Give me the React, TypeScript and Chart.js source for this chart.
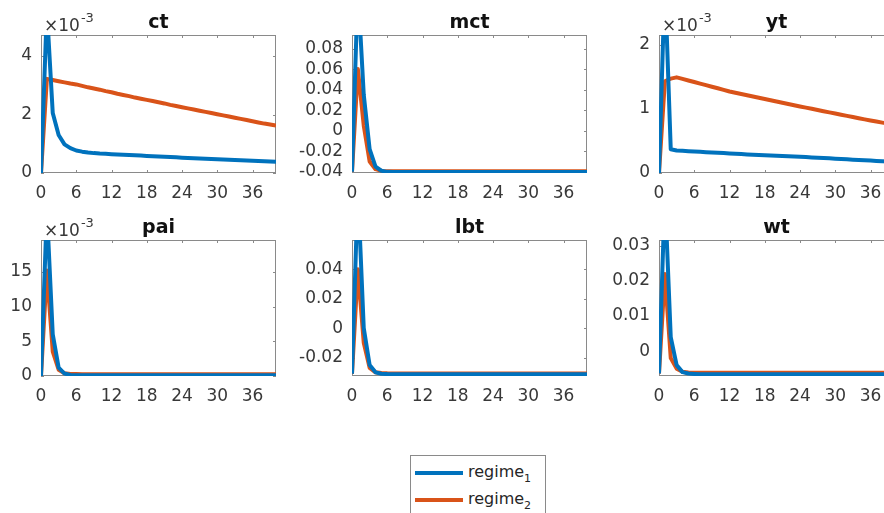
import React, { useEffect, useRef } from "react";
import { Chart, registerables } from "chart.js";

Chart.register(...registerables);

// ---------- data ----------
const periods = [0, 1, 2, 3, 4, 5, 6, 7, 8, 9, 10, 11, 12, 13, 14, 15, 16, 17, 18, 19, 20,
  21, 22, 23, 24, 25, 26, 27, 28, 29, 30, 31, 32, 33, 34, 35, 36, 37, 38, 39, 40];
const xTicks = [0, 6, 12, 18, 24, 30, 36];
const legendLabels = ["regime", "regime"];
const legendSubs = ["1", "2"];

// ct (x10^-3)
const ctRegime1 = [0, 5.6, 2.05, 1.3, 0.98, 0.85, 0.77, 0.73, 0.70, 0.68, 0.665, 0.655, 0.645, 0.635, 0.625,
  0.615, 0.605, 0.595, 0.585, 0.575, 0.565, 0.555, 0.545, 0.535, 0.525, 0.515, 0.505, 0.496, 0.487, 0.478,
  0.469, 0.46, 0.451, 0.442, 0.434, 0.426, 0.418, 0.41, 0.402, 0.394, 0.386];
const ctRegime2 = [0, 3.22, 3.18, 3.14, 3.10, 3.06, 3.03, 2.98, 2.93, 2.89, 2.85, 2.80, 2.76, 2.71, 2.67,
  2.63, 2.58, 2.54, 2.50, 2.46, 2.42, 2.38, 2.33, 2.29, 2.25, 2.21, 2.17, 2.13, 2.09, 2.05, 2.01, 1.97,
  1.93, 1.89, 1.85, 1.81, 1.77, 1.73, 1.69, 1.66, 1.62];
const ctTicks = [0, 2, 4];
const ctTickLabels = ["0", "2", "4"];

// mct
const mctRegime1 = [-0.040, 0.14, 0.035, -0.018, -0.035, -0.039, -0.0401, -0.0402, -0.0402, -0.0402,
  -0.0402, -0.0402, -0.0402, -0.0402, -0.0402, -0.0402, -0.0402, -0.0402, -0.0402, -0.0402, -0.0402,
  -0.0402, -0.0402, -0.0402, -0.0402, -0.0402, -0.0402, -0.0402, -0.0402, -0.0402, -0.0402, -0.0402,
  -0.0402, -0.0402, -0.0402, -0.0402, -0.0402, -0.0402, -0.0402, -0.0402, -0.0402];
const mctRegime2 = [-0.040, 0.060, 0.005, -0.030, -0.0375, -0.0392, -0.0395, -0.0396, -0.0396, -0.0396,
  -0.0396, -0.0396, -0.0396, -0.0396, -0.0396, -0.0396, -0.0396, -0.0396, -0.0396, -0.0396, -0.0396,
  -0.0396, -0.0396, -0.0396, -0.0396, -0.0396, -0.0396, -0.0396, -0.0396, -0.0396, -0.0396, -0.0396,
  -0.0396, -0.0396, -0.0396, -0.0396, -0.0396, -0.0396, -0.0396, -0.0396, -0.0396];
const mctTicks = [-0.04, -0.02, 0, 0.02, 0.04, 0.06, 0.08];
const mctTickLabels = ["-0.04", "-0.02", "0", "0.02", "0.04", "0.06", "0.08"];

// yt (x10^-3)
const ytRegime1 = [0, 3.0, 0.37, 0.35, 0.345, 0.34, 0.335, 0.33, 0.325, 0.32, 0.315, 0.31, 0.305, 0.30,
  0.295, 0.29, 0.285, 0.28, 0.276, 0.272, 0.268, 0.264, 0.26, 0.256, 0.252, 0.248, 0.243, 0.238, 0.233,
  0.228, 0.223, 0.218, 0.213, 0.208, 0.203, 0.198, 0.193, 0.188, 0.183, 0.178, 0.173];
const ytRegime2 = [0, 1.43, 1.47, 1.49, 1.466, 1.442, 1.417, 1.393, 1.368, 1.344, 1.32, 1.295, 1.27, 1.25,
  1.231, 1.211, 1.192, 1.172, 1.153, 1.133, 1.114, 1.094, 1.075, 1.055, 1.036, 1.018, 1.0, 0.981, 0.963,
  0.945, 0.927, 0.908, 0.89, 0.872, 0.853, 0.835, 0.817, 0.801, 0.785, 0.769, 0.753];
const ytTicks = [0, 1, 2];
const ytTickLabels = ["0", "1", "2"];

// pai (x10^-3)
const paiRegime1 = [0, 24, 6, 1.2, 0.35, 0.15, 0.12, 0.1, 0.1, 0.1, 0.1, 0.1, 0.1, 0.1, 0.1, 0.1, 0.1,
  0.1, 0.1, 0.1, 0.1, 0.1, 0.1, 0.1, 0.1, 0.1, 0.1, 0.1, 0.1, 0.1, 0.1, 0.1, 0.1, 0.1, 0.1, 0.1, 0.1,
  0.1, 0.1, 0.1, 0.1];
const paiRegime2 = [0, 15.2, 3.5, 0.9, 0.4, 0.3, 0.28, 0.27, 0.27, 0.27, 0.27, 0.27, 0.27, 0.27, 0.27,
  0.27, 0.27, 0.27, 0.27, 0.27, 0.27, 0.27, 0.27, 0.27, 0.27, 0.27, 0.27, 0.27, 0.27, 0.27, 0.27, 0.27,
  0.27, 0.27, 0.27, 0.27, 0.27, 0.27, 0.27, 0.27, 0.27];
const paiTicks = [0, 5, 10, 15];
const paiTickLabels = ["0", "5", "10", "15"];

// lbt
const lbtRegime1 = [-0.031, 0.095, 0.0, -0.025, -0.030, -0.031, -0.0312, -0.0313, -0.0313, -0.0313,
  -0.0313, -0.0313, -0.0313, -0.0313, -0.0313, -0.0313, -0.0313, -0.0313, -0.0313, -0.0313, -0.0313,
  -0.0313, -0.0313, -0.0313, -0.0313, -0.0313, -0.0313, -0.0313, -0.0313, -0.0313, -0.0313, -0.0313,
  -0.0313, -0.0313, -0.0313, -0.0313, -0.0313, -0.0313, -0.0313, -0.0313, -0.0313];
const lbtRegime2 = [-0.031, 0.040, -0.010, -0.027, -0.030, -0.0305, -0.0307, -0.0308, -0.0308, -0.0308,
  -0.0308, -0.0308, -0.0308, -0.0308, -0.0308, -0.0308, -0.0308, -0.0308, -0.0308, -0.0308, -0.0308,
  -0.0308, -0.0308, -0.0308, -0.0308, -0.0308, -0.0308, -0.0308, -0.0308, -0.0308, -0.0308, -0.0308,
  -0.0308, -0.0308, -0.0308, -0.0308, -0.0308, -0.0308, -0.0308, -0.0308, -0.0308];
const lbtTicks = [-0.02, 0, 0.02, 0.04];
const lbtTickLabels = ["-0.02", "0", "0.02", "0.04"];

// wt
const wtRegime1 = [-0.0064, 0.045, 0.004, -0.004, -0.006, -0.0064, -0.0065, -0.0066, -0.0066, -0.0066,
  -0.0066, -0.0066, -0.0066, -0.0066, -0.0066, -0.0066, -0.0066, -0.0066, -0.0066, -0.0066, -0.0066,
  -0.0066, -0.0066, -0.0066, -0.0066, -0.0066, -0.0066, -0.0066, -0.0066, -0.0066, -0.0066, -0.0066,
  -0.0066, -0.0066, -0.0066, -0.0066, -0.0066, -0.0066, -0.0066, -0.0066, -0.0066];
const wtRegime2 = [-0.0064, 0.022, -0.002, -0.005, -0.0059, -0.0061, -0.0062, -0.0062, -0.0062, -0.0062,
  -0.0062, -0.0062, -0.0062, -0.0062, -0.0062, -0.0062, -0.0062, -0.0062, -0.0062, -0.0062, -0.0062,
  -0.0062, -0.0062, -0.0062, -0.0062, -0.0062, -0.0062, -0.0062, -0.0062, -0.0062, -0.0062, -0.0062,
  -0.0062, -0.0062, -0.0062, -0.0062, -0.0062, -0.0062, -0.0062, -0.0062, -0.0062];
const wtTicks = [0, 0.01, 0.02, 0.03];
const wtTickLabels = ["0", "0.01", "0.02", "0.03"];

// ---------- style / layout ----------
const BLUE = "#0072BD";
const ORANGE = "#D95319";
const FONT = "'DejaVu Sans', 'Liberation Sans', sans-serif";
const TICK_COLOR = "#383838";
const FRAME_COLOR = "#8a8a8a";
const PADL = 70, PADT = 40, PADR = 12, PADB = 34;

const panels = [
  { title: "ct", r1: ctRegime1, r2: ctRegime2, yMin: 0, yMax: 4.72, yTicks: ctTicks, yLabels: ctTickLabels, exponent: true, left: 41, top: 35, width: 235, height: 138 },
  { title: "mct", r1: mctRegime1, r2: mctRegime2, yMin: -0.0412, yMax: 0.0932, yTicks: mctTicks, yLabels: mctTickLabels, exponent: false, left: 352, top: 35, width: 235, height: 138 },
  { title: "yt", r1: ytRegime1, r2: ytRegime2, yMin: 0, yMax: 2.15, yTicks: ytTicks, yLabels: ytTickLabels, exponent: true, left: 659, top: 35, width: 235, height: 138 },
  { title: "pai", r1: paiRegime1, r2: paiRegime2, yMin: 0, yMax: 19.6, yTicks: paiTicks, yLabels: paiTickLabels, exponent: true, left: 41, top: 240, width: 235, height: 136 },
  { title: "lbt", r1: lbtRegime1, r2: lbtRegime2, yMin: -0.0325, yMax: 0.0598, yTicks: lbtTicks, yLabels: lbtTickLabels, exponent: false, left: 352, top: 240, width: 235, height: 136 },
  { title: "wt", r1: wtRegime1, r2: wtRegime2, yMin: -0.0071, yMax: 0.0317, yTicks: wtTicks, yLabels: wtTickLabels, exponent: false, left: 659, top: 240, width: 235, height: 136 },
];

const framePlugin = {
  id: "matlabFrame",
  beforeDatasetsDraw(chart: any) {
    const { ctx, chartArea: a, scales } = chart;
    const x = scales.x, y = scales.y;
    ctx.save();
    ctx.strokeStyle = FRAME_COLOR;
    ctx.lineWidth = 1;
    ctx.strokeRect(a.left + 0.5, a.top + 0.5, a.right - a.left - 1, a.bottom - a.top - 1);
    ctx.beginPath();
    x.ticks.forEach((t: any) => {
      const px = Math.round(x.getPixelForValue(t.value)) + 0.5;
      ctx.moveTo(px, a.bottom); ctx.lineTo(px, a.bottom - 3);
      ctx.moveTo(px, a.top); ctx.lineTo(px, a.top + 3);
    });
    y.ticks.forEach((t: any) => {
      const py = Math.round(y.getPixelForValue(t.value)) + 0.5;
      ctx.moveTo(a.left, py); ctx.lineTo(a.left + 3, py);
      ctx.moveTo(a.right, py); ctx.lineTo(a.right - 3, py);
    });
    ctx.stroke();
    ctx.restore();
  },
  afterDraw(chart: any, _args: any, opts: any) {
    const { ctx, chartArea: a } = chart;
    ctx.save();
    ctx.fillStyle = "#111";
    ctx.font = `bold 19px ${FONT}`;
    ctx.textAlign = "center";
    ctx.textBaseline = "alphabetic";
    ctx.fillText(opts.title, (a.left + a.right) / 2, a.top - 7);
    if (opts.exponent) {
      ctx.fillStyle = TICK_COLOR;
      ctx.textAlign = "left";
      ctx.font = `17px ${FONT}`;
      const ex = a.left + 3, ey = a.top - 4;
      ctx.fillText("×10", ex, ey);
      const w = ctx.measureText("×10").width;
      ctx.font = `13px ${FONT}`;
      ctx.fillText("-3", ex + w + 1, ey - 9);
    }
    ctx.restore();
  },
};

function Panel(p: any) {
  const ref = useRef<HTMLCanvasElement>(null);
  const cw = PADL + p.width + PADR;
  const ch = PADT + p.height + PADB;
  useEffect(() => {
    const canvas = ref.current;
    if (!canvas) return;
    const mk = (vals: number[], color: string, label: string) => ({
      label,
      data: periods.map((t, i) => ({ x: t, y: vals[i] })),
      borderColor: color,
      backgroundColor: color,
      borderWidth: 4,
      pointRadius: 0,
      fill: false,
      tension: 0,
      borderJoinStyle: "round",
      borderCapStyle: "butt",
    });
    const tickFont = { family: FONT, size: 17 };
    const chart = new Chart(canvas, {
      type: "line",
      data: { datasets: [mk(p.r1, BLUE, "regime1"), mk(p.r2, ORANGE, "regime2")] as any },
      options: {
        responsive: false,
        maintainAspectRatio: false,
        animation: false,
        devicePixelRatio: 1,
        layout: { padding: { left: 0, top: PADT, right: PADR, bottom: 0 } },
        plugins: {
          legend: { display: false },
          tooltip: { enabled: false },
          matlabFrame: { title: p.title, exponent: p.exponent },
        } as any,
        scales: {
          x: {
            type: "linear",
            min: 0,
            max: 40,
            afterBuildTicks: (s: any) => { s.ticks = xTicks.map((v) => ({ value: v })); },
            afterFit: (s: any) => { s.height = PADB; },
            grid: { display: false, drawTicks: false },
            border: { display: false },
            ticks: {
              padding: 10, color: TICK_COLOR, font: tickFont, autoSkip: false, maxRotation: 0,
              callback: (v: any) => String(v),
            },
          },
          y: {
            type: "linear",
            min: p.yMin,
            max: p.yMax,
            afterBuildTicks: (s: any) => { s.ticks = p.yTicks.map((v: number) => ({ value: v })); },
            afterFit: (s: any) => { s.width = PADL; },
            grid: { display: false, drawTicks: false },
            border: { display: false },
            ticks: {
              padding: 9, color: TICK_COLOR, font: tickFont, autoSkip: false,
              callback: (_v: any, i: number) => p.yLabels[i],
            },
          },
        },
      } as any,
      plugins: [framePlugin as any],
    });
    return () => chart.destroy();
  }, []);
  return (
    <canvas
      ref={ref}
      width={cw}
      height={ch}
      style={{ position: "absolute", left: p.left - PADL, top: p.top - PADT, width: cw, height: ch }}
    />
  );
}

function Legend() {
  const colors = [BLUE, ORANGE];
  return (
    <div
      style={{
        position: "absolute", left: 410, top: 455, width: 136, height: 70,
        border: `1px solid ${FRAME_COLOR}`, background: "#fff", boxSizing: "border-box",
      }}
    >
      {legendLabels.map((lab, i) => (
        <div key={i}>
          <div
            style={{
              position: "absolute", left: 4, top: 15 + i * 27, width: 48, height: 4,
              background: colors[i],
            }}
          />
          <div
            style={{
              position: "absolute", left: 57, top: 8 + i * 27, fontFamily: FONT, fontSize: 16,
              lineHeight: "16px", color: "#262626", whiteSpace: "nowrap",
            }}
          >
            {lab}
            <span style={{ fontSize: 11, verticalAlign: -5 }}>{legendSubs[i]}</span>
          </div>
        </div>
      ))}
    </div>
  );
}

export default function App() {
  return (
    <div
      style={{
        position: "fixed", left: 0, top: 0, width: 884, height: 513, overflow: "hidden",
        background: "#fff",
      }}
    >
      {panels.map((p, i) => (
        <Panel key={i} {...p} />
      ))}
      <Legend />
    </div>
  );
}
